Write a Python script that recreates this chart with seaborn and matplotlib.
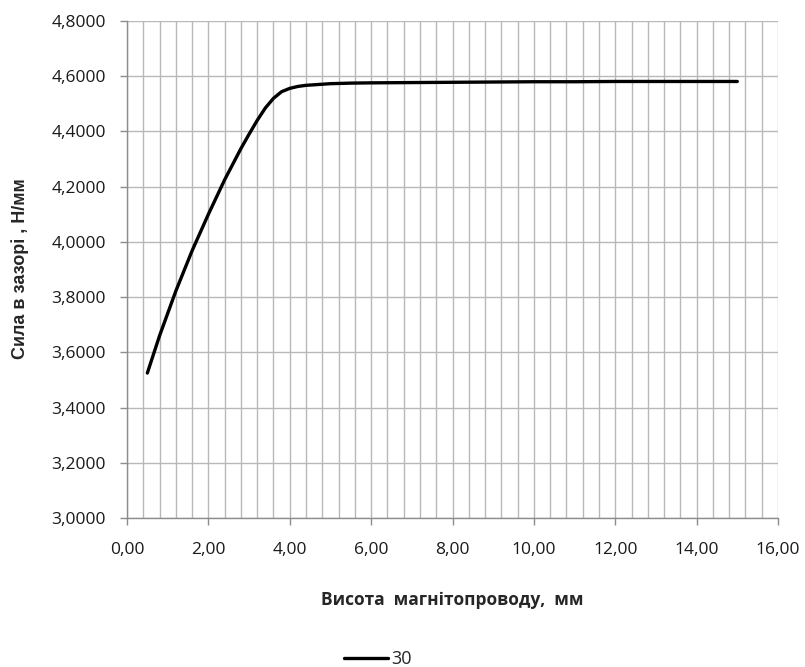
import matplotlib
matplotlib.use("Agg")
import matplotlib.pyplot as plt
import matplotlib.ticker as mticker
import seaborn as sns
import pandas as pd

# Data
height_mm = [0.5, 0.8, 1.2, 1.6, 2.0, 2.4, 2.8, 3.0, 3.2, 3.4, 3.6, 3.8, 4.0,
             4.2, 4.4, 4.7, 5.0, 5.5, 6.0, 7.0, 8.0, 9.0, 10.0, 11.0, 12.0,
             13.0, 14.0, 15.0]
force = [3.525, 3.660, 3.822, 3.968, 4.100, 4.225, 4.338, 4.390, 4.440, 4.485,
         4.520, 4.544, 4.556, 4.563, 4.567, 4.570, 4.573, 4.575, 4.576, 4.577,
         4.578, 4.579, 4.580, 4.580, 4.581, 4.581, 4.581, 4.581]
series_name = "30"
x_label = "Висота  магнітопроводу,  мм"
y_label = "Сила в зазорі , Н/мм"

df = pd.DataFrame({"x": height_mm, "y": force, "series": series_name})

sns.set_theme(style="white")
plt.rcParams['font.family'] = ['Open Sans', 'DejaVu Sans']

fig = plt.figure(figsize=(8.05, 6.67), dpi=100)
ax = fig.add_axes([127/805, 1-518/667, (778-127)/805, (518-21)/667])

sns.lineplot(data=df, x="x", y="y", hue="series", palette=["black"],
             linewidth=2.4, ax=ax, legend=True)
for ln in ax.lines:
    ln.set_solid_joinstyle("round")
    ln.set_solid_capstyle("round")

ax.set_xlim(0, 16)
ax.set_ylim(3.0, 4.8)
ax.xaxis.set_major_locator(mticker.MultipleLocator(2))
ax.xaxis.set_minor_locator(mticker.MultipleLocator(0.4))
ax.yaxis.set_major_locator(mticker.MultipleLocator(0.2))
ax.xaxis.set_major_formatter(mticker.FuncFormatter(lambda v, p: f"{v:.2f}".replace(".", ",")))
ax.yaxis.set_major_formatter(mticker.FuncFormatter(lambda v, p: f"{v:.4f}".replace(".", ",")))

gc = "#b8b8b8"
ax.grid(which="major", axis="y", color=gc, linewidth=1.0)
ax.grid(which="minor", axis="x", color=gc, linewidth=1.0)
ax.grid(which="major", axis="x", color=gc, linewidth=1.0)
ax.set_axisbelow(True)
for s in ["top", "right"]:
    ax.spines[s].set_visible(False)
for s in ["left", "bottom"]:
    ax.spines[s].set_color("#8c8c8c")
    ax.spines[s].set_linewidth(1.0)

ax.tick_params(axis="both", which="major", length=5, width=1.0, color="#8c8c8c",
               labelsize=12.5, labelcolor="#1a1a1a", direction="out")
ax.tick_params(axis="x", which="major", pad=12)
ax.tick_params(axis="y", which="major", pad=10)
ax.tick_params(axis="x", which="minor", length=0)
ax.tick_params(left=True, bottom=True)

ax.set_xlabel(x_label, fontsize=12.5, fontweight="bold")
ax.set_ylabel(y_label, fontsize=13, fontweight="bold",
              family=['Liberation Sans', 'DejaVu Sans'])
ax.xaxis.set_label_coords((452-127)/651, (518-600)/497)
ax.xaxis.label.set_va("center")
ax.yaxis.set_label_coords((20-127)/651, (518-269)/497)
ax.yaxis.label.set_va("center")

leg = ax.legend(loc="center", bbox_to_anchor=(378/805, 1 - 659/667),
                bbox_transform=fig.transFigure, frameon=False, fontsize=13,
                handlelength=2.4, handletextpad=0.2, borderpad=0, borderaxespad=0)
for line in leg.get_lines():
    line.set_linewidth(2.4)

fig.savefig("out.png", dpi=100)
